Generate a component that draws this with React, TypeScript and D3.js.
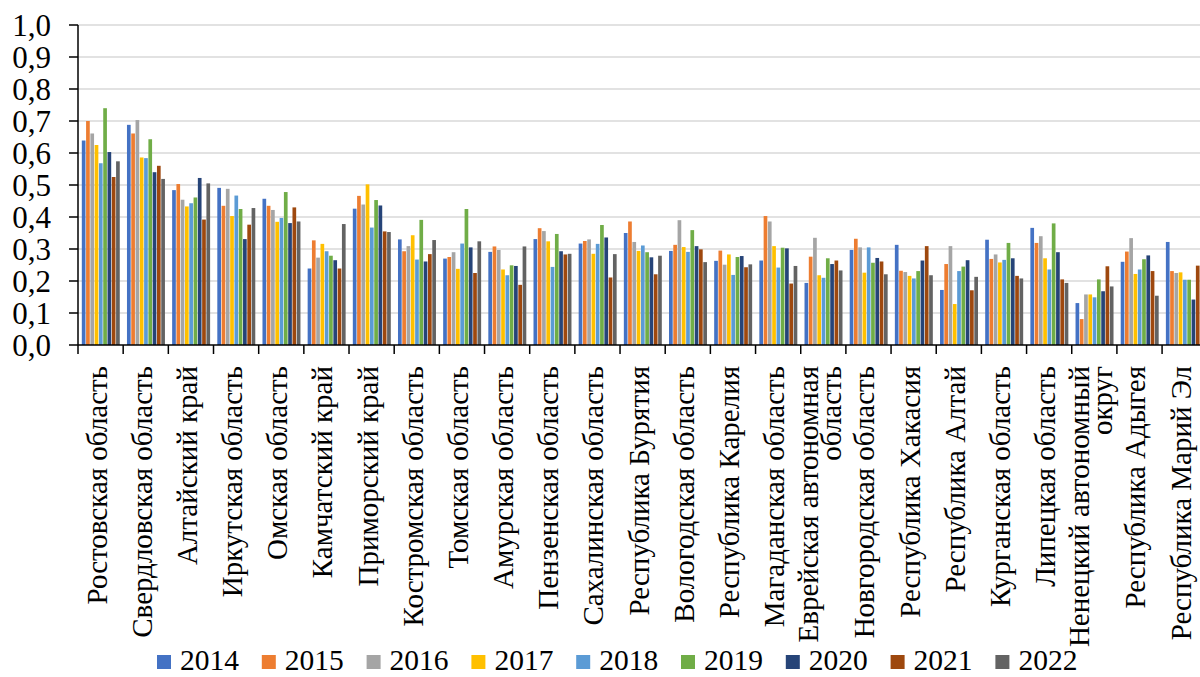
import * as d3 from "d3";

const categories = [
  "Ростовская область",
  "Свердловская область",
  "Алтайский край",
  "Иркутская область",
  "Омская область",
  "Камчатский край",
  "Приморский край",
  "Костромская область",
  "Томская область",
  "Амурская область",
  "Пензенская область",
  "Сахалинская область",
  "Республика Бурятия",
  "Вологодская область",
  "Республика Карелия",
  "Магаданская область",
  "Еврейская автономная\nобласть",
  "Новгородская область",
  "Республика Хакасия",
  "Республика Алтай",
  "Курганская область",
  "Липецкая область",
  "Ненецкий автономный\nокруг",
  "Республика Адыгея",
  "Республика Марий Эл",
];

const years = ["2014", "2015", "2016", "2017", "2018", "2019", "2020", "2021", "2022"];
const colors = ["#4472C4", "#ED7D31", "#A5A5A5", "#FFC000", "#5B9BD5", "#70AD47", "#264478", "#9E480E", "#636363"];

const v2014 = [0.639, 0.688, 0.484, 0.491, 0.457, 0.239, 0.426, 0.33, 0.27, 0.291, 0.331, 0.317, 0.35, 0.294, 0.263, 0.264, 0.194, 0.297, 0.313, 0.172, 0.329, 0.366, 0.131, 0.26, 0.322];
const v2015 = [0.7, 0.661, 0.503, 0.435, 0.435, 0.327, 0.466, 0.293, 0.275, 0.308, 0.365, 0.325, 0.386, 0.313, 0.295, 0.403, 0.276, 0.332, 0.232, 0.253, 0.269, 0.319, 0.081, 0.292, 0.231];
const v2016 = [0.661, 0.703, 0.454, 0.488, 0.422, 0.273, 0.439, 0.309, 0.29, 0.297, 0.356, 0.33, 0.322, 0.39, 0.251, 0.386, 0.335, 0.305, 0.228, 0.309, 0.283, 0.34, 0.158, 0.334, 0.225];
const v2017 = [0.625, 0.586, 0.433, 0.403, 0.385, 0.316, 0.502, 0.343, 0.238, 0.236, 0.324, 0.285, 0.294, 0.306, 0.283, 0.309, 0.218, 0.226, 0.216, 0.128, 0.258, 0.271, 0.158, 0.222, 0.227];
const v2018 = [0.568, 0.584, 0.443, 0.467, 0.397, 0.293, 0.367, 0.267, 0.317, 0.218, 0.244, 0.316, 0.311, 0.291, 0.219, 0.242, 0.21, 0.305, 0.208, 0.231, 0.266, 0.236, 0.149, 0.236, 0.204];
const v2019 = [0.74, 0.643, 0.461, 0.425, 0.478, 0.279, 0.453, 0.391, 0.425, 0.249, 0.347, 0.375, 0.29, 0.359, 0.275, 0.304, 0.271, 0.257, 0.231, 0.245, 0.319, 0.38, 0.205, 0.268, 0.204];
const v2020 = [0.603, 0.54, 0.522, 0.331, 0.381, 0.265, 0.436, 0.261, 0.305, 0.247, 0.293, 0.336, 0.274, 0.309, 0.278, 0.302, 0.253, 0.272, 0.264, 0.265, 0.271, 0.29, 0.168, 0.28, 0.142];
const v2021 = [0.525, 0.56, 0.392, 0.376, 0.43, 0.239, 0.355, 0.284, 0.225, 0.188, 0.283, 0.211, 0.221, 0.299, 0.243, 0.192, 0.264, 0.261, 0.309, 0.171, 0.216, 0.205, 0.246, 0.231, 0.248];
const v2022 = [0.574, 0.519, 0.505, 0.428, 0.386, 0.378, 0.353, 0.328, 0.324, 0.308, 0.285, 0.284, 0.279, 0.259, 0.252, 0.247, 0.233, 0.221, 0.218, 0.213, 0.208, 0.194, 0.183, 0.154, 0.148];

const series = [v2014, v2015, v2016, v2017, v2018, v2019, v2020, v2021, v2022];
const yTicks = [0, 0.1, 0.2, 0.3, 0.4, 0.5, 0.6, 0.7, 0.8, 0.9, 1.0];

const W = 1200;
const H = 677;
const FONT = "'Liberation Serif', 'Times New Roman', serif";

export default function App() {
  const left = 78;
  const top = 25;
  const bottom = 345;
  const step = 45.17;

  const x0 = d3
    .scaleBand<string>()
    .domain(categories)
    .range([left, left + step * categories.length]);
  const x1 = d3
    .scaleBand<string>()
    .domain(years)
    .range([3.8, step - 3.4])
    .paddingInner(0.14);
  const y = d3.scaleLinear().domain([0, 1]).range([bottom, top]);
  const fmt = (d: number) => d.toFixed(1).replace(".", ",");

  const legendX = d3.scaleLinear().domain([0, 1]).range([180, 284.8]);

  return (
    <div style={{ position: "absolute", left: 0, top: 0 }}>
      <svg width={W} height={H} style={{ display: "block", background: "#fff" }} fontFamily={FONT}>
        {/* gridlines */}
        {yTicks.slice(1).map((t) => (
          <line key={t} x1={left} x2={W} y1={y(t)} y2={y(t)} stroke="#d9d9d9" strokeWidth={1.5} />
        ))}

        {/* bars */}
        {categories.map((c, ci) => (
          <g key={c} transform={`translate(${x0(c)},0)`}>
            {years.map((yr, si) => (
              <rect
                key={yr}
                x={x1(yr)}
                y={y(series[si][ci])}
                width={x1.bandwidth()}
                height={y(0) - y(series[si][ci])}
                fill={colors[si]}
              />
            ))}
          </g>
        ))}

        {/* y axis */}
        <line x1={left} x2={left} y1={top} y2={bottom} stroke="#000" strokeWidth={1.5} />
        {yTicks.map((t) => (
          <g key={t}>
            <line x1={left - 9} x2={left} y1={y(t)} y2={y(t)} stroke="#000" strokeWidth={1.5} />
            <text x={51} y={y(t) + 10.5} textAnchor="end" fontSize={31} fill="#000">
              {fmt(t)}
            </text>
          </g>
        ))}

        {/* x axis */}
        <line x1={left} x2={W} y1={bottom} y2={bottom} stroke="#000" strokeWidth={1.5} />
        {categories.map((c) => (
          <line key={c} x1={x0(c)!} x2={x0(c)!} y1={bottom} y2={bottom + 9} stroke="#000" strokeWidth={1.5} />
        ))}

        {/* category labels */}
        {categories.map((c) => {
          const lines = c.split("\n");
          const cx = x0(c)! + x0.bandwidth() / 2 + 6;
          const gap = 23;
          return (
            <text
              key={c}
              transform={`translate(${cx},366) rotate(-90)`}
              textAnchor="end"
              fontSize={29}
              fill="#000"
            >
              {lines.map((ln, i) => (
                <tspan key={i} x={0} y={(i - (lines.length - 1) / 2) * gap}>
                  {ln}
                </tspan>
              ))}
            </text>
          );
        })}

        {/* legend */}
        {years.map((yr, i) => (
          <g key={yr}>
            <rect x={legendX(i) - 23} y={655} width={14} height={14} fill={colors[i]} />
            <text x={legendX(i)} y={670} fontSize={29.5} fill="#000">
              {yr}
            </text>
          </g>
        ))}
      </svg>
    </div>
  );
}
